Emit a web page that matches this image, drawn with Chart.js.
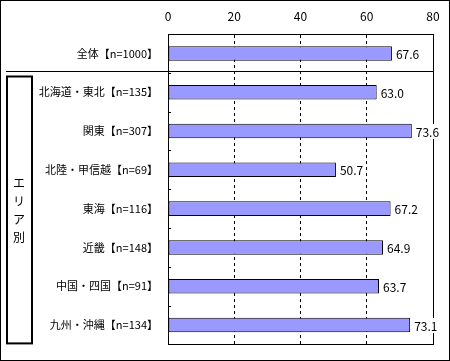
<!DOCTYPE html>
<html>
<head>
<meta charset="utf-8">
<script src="https://cdn.jsdelivr.net/npm/chart.js@4/dist/chart.umd.min.js"></script>
<style>
  html, body { margin: 0; padding: 0; background: #fff; }
  canvas { display: block; }
</style>
</head>
<body>
<canvas id="myChart" width="450" height="361"></canvas>
<script>
// datos del grafico
const categories = ["全体【n=1000】", "北海道・東北【n=135】", "関東【n=307】", "北陸・甲信越【n=69】",
  "東海【n=116】", "近畿【n=148】", "中国・四国【n=91】", "九州・沖縄【n=134】"];
const values = [67.6, 63.0, 73.6, 50.7, 67.2, 64.9, 63.7, 73.1];
const xTicks = [0, 20, 40, 60, 80];
const groupLabel = ["エ", "リ", "ア", "別"];

const FONT = "'Noto Sans CJK JP', 'Noto Sans', sans-serif";

// valores al final de cada barra + marcos
const extras = {
  id: "extras",
  afterDatasetsDraw(chart) {
    const ctx = chart.ctx;
    const area = chart.chartArea;
    const yScale = chart.scales.y;
    const meta = chart.getDatasetMeta(0);

    ctx.save();
    // borde del area
    ctx.strokeStyle = "#000";
    ctx.lineWidth = 1;
    ctx.strokeRect(Math.round(area.left) + 0.5, Math.round(area.top) + 0.5,
      Math.round(area.right - area.left), Math.round(area.bottom - area.top));

    ctx.font = "12px " + FONT;
    ctx.textAlign = "left";
    ctx.textBaseline = "middle";
    meta.data.forEach((bar, i) => {
      const txt = values[i].toFixed(1);
      const w = ctx.measureText(txt).width;
      ctx.fillStyle = "#fff";
      ctx.fillRect(bar.x + 3, bar.y - 7, w + 2, 15);
      ctx.fillStyle = "#000";
      ctx.fillText(txt, bar.x + 4, bar.y + 1);
    });

    // marcas cortas entre categorias
    const band = yScale.getPixelForValue(1) - yScale.getPixelForValue(0);
    for (let i = 0; i < categories.length - 1; i++) {
      const yy = Math.round(yScale.getPixelForValue(i) + band / 2) + 0.5;
      ctx.beginPath();
      ctx.moveTo(area.left, yy);
      ctx.lineTo(area.left + 3, yy);
      ctx.stroke();
    }

    // linea separadora
    const sep = Math.round(yScale.getPixelForValue(0) + band / 2) - 2 + 0.5;
    ctx.beginPath();
    ctx.moveTo(6, sep);
    ctx.lineTo(area.right, sep);
    ctx.stroke();

    // caja "エリア別"
    ctx.lineWidth = 2;
    const boxTop = sep + 5;
    const boxBottom = area.bottom - 1;
    ctx.strokeRect(7, boxTop, 25, boxBottom - boxTop);
    ctx.textAlign = "center";
    const mid = (boxTop + boxBottom) / 2;
    groupLabel.forEach((ch, i) => {
      ctx.fillText(ch, 19, mid + (i - 1.5) * 18);
    });

    // borde exterior
    ctx.lineWidth = 1;
    ctx.strokeRect(0.5, 0.5, chart.width - 1, chart.height - 1);
    ctx.restore();
  }
};

const ctx = document.getElementById("myChart").getContext("2d");

const chart = new Chart(ctx, {
  type: "bar",
  data: {
    labels: categories,
    datasets: [{
      data: values,
      backgroundColor: "#9999FF",
      borderColor: "#000",
      borderWidth: 1,
      borderSkipped: false,
      barPercentage: 0.375,
      categoryPercentage: 1
    }]
  },
  options: {
    indexAxis: "y",
    responsive: false,
    animation: false,
    devicePixelRatio: 1,
    layout: { padding: { left: 0, right: 17, top: 0, bottom: 7 } },
    plugins: {
      legend: { display: false },
      tooltip: { enabled: false }
    },
    scales: {
      x: {
        position: "top",
        min: xTicks[0],
        max: xTicks[xTicks.length - 1],
        afterBuildTicks: (scale) => { scale.ticks = xTicks.map(v => ({ value: v })); },
        afterFit: (scale) => { scale.height = 34; },
        ticks: { color: "#000", font: { size: 12, family: FONT }, padding: 10 },
        grid: {
          drawTicks: false,
          color: (c) => (c.tick && (c.tick.value === 0 || c.tick.value === 80)) ? "rgba(0,0,0,0)" : "#000"
        },
        border: { display: true, color: "#000", dash: [3, 3] }
      },
      y: {
        afterFit: (scale) => { scale.width = 168; },
        ticks: { color: "#000", font: { size: 11, family: FONT }, padding: 10 },
        grid: { display: false, drawTicks: false },
        border: { display: true, color: "#000" }
      }
    }
  },
  plugins: [extras]
});
</script>
</body>
</html>
